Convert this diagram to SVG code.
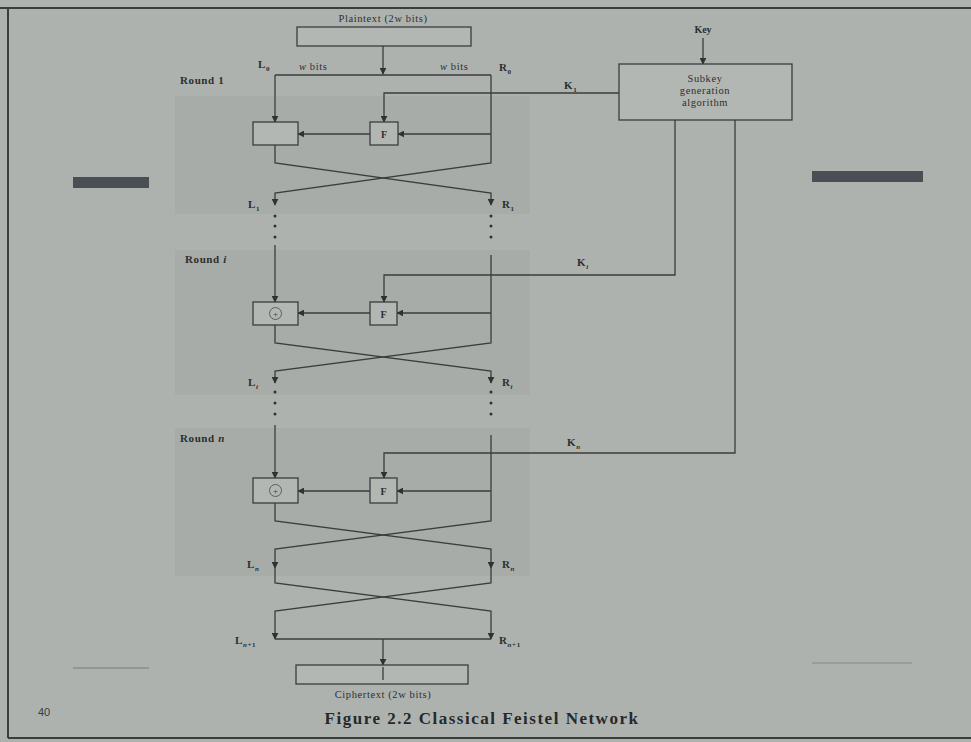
<svg xmlns="http://www.w3.org/2000/svg" width="971" height="742" viewBox="0 0 971 742">
<defs>
<marker id="ah" viewBox="0 0 10 10" refX="9" refY="5" markerWidth="7" markerHeight="7" orient="auto" markerUnits="userSpaceOnUse">
<path d="M0,0 L10,5 L0,10 z" fill="#2f3231"/>
</marker>
<style>
.ln{fill:none;stroke:#3a3d3c;stroke-width:1.3}
.bx{fill:#b3b7b4;stroke:#3a3d3c;stroke-width:1.3}
.t{font-family:"Liberation Serif",serif;font-size:10.5px;fill:#2c2f2e;letter-spacing:0.6px}
.tb{font-family:"Liberation Serif",serif;font-size:10px;fill:#2c2f2e;font-weight:bold}
.lab{font-family:"Liberation Serif",serif;font-size:11px;fill:#2c2f2e;font-weight:bold;letter-spacing:0.6px}
.sub{font-size:7px}
.dot{fill:#2f3231}
.shade{fill:#a8aca9}
</style>
</defs>
<rect x="0" y="0" width="971" height="742" fill="#aeb2af"/>
<!-- page frame -->
<g id="page">
<line x1="0" y1="8" x2="971" y2="8" stroke="#3a3d3c" stroke-width="2"/>
<line x1="8" y1="8" x2="8" y2="738" stroke="#3a3d3c" stroke-width="2"/>
<line x1="8" y1="738" x2="971" y2="738" stroke="#3a3d3c" stroke-width="2"/>
<rect x="73" y="177" width="76" height="11" fill="#4a4e55"/>
<rect x="812" y="171" width="111" height="11" fill="#4a4e55"/>
<line x1="73" y1="668" x2="149" y2="668" stroke="#6a6e70" stroke-width="0.8"/>
<line x1="812" y1="663" x2="912" y2="663" stroke="#7a7e80" stroke-width="0.8"/>
<text x="38" y="716" font-family="Liberation Sans,sans-serif" font-size="11" fill="#3a3d3c">40</text>
<rect class="shade" x="175" y="96" width="355" height="118"/>
<rect class="shade" x="175" y="250" width="355" height="145"/>
<rect class="shade" x="175" y="428" width="355" height="148"/>
</g>
<!-- connectors -->
<g id="connectors">
<!-- plaintext down -->
<line class="ln" x1="383" y1="46" x2="383" y2="74" marker-end="url(#ah)"/>
<line class="ln" x1="275" y1="75" x2="491" y2="75"/>
<!-- round 1 -->
<line class="ln" x1="275" y1="75" x2="275" y2="122" marker-end="url(#ah)"/>
<polyline class="ln" points="491,75 491,163 275,193 275,205" marker-end="url(#ah)"/>
<line class="ln" x1="491" y1="134" x2="398" y2="134" marker-end="url(#ah)"/>
<line class="ln" x1="370" y1="134" x2="298" y2="134" marker-end="url(#ah)"/>
<polyline class="ln" points="275,145 275,163 491,193 491,205" marker-end="url(#ah)"/>
<polyline class="ln" points="619,93 384,93 384,122" marker-end="url(#ah)"/>
<!-- round i -->
<line class="ln" x1="275" y1="245" x2="275" y2="302" marker-end="url(#ah)"/>
<polyline class="ln" points="491,255 491,343 275,371 275,383" marker-end="url(#ah)"/>
<line class="ln" x1="491" y1="313" x2="397" y2="313" marker-end="url(#ah)"/>
<line class="ln" x1="370" y1="313" x2="298" y2="313" marker-end="url(#ah)"/>
<polyline class="ln" points="275,325 275,343 491,371 491,383" marker-end="url(#ah)"/>
<polyline class="ln" points="675,120 675,275 384,275 384,302" marker-end="url(#ah)"/>
<!-- round n -->
<line class="ln" x1="275" y1="425" x2="275" y2="478" marker-end="url(#ah)"/>
<polyline class="ln" points="491,435 491,521 275,549 275,568" marker-end="url(#ah)"/>
<line class="ln" x1="491" y1="491" x2="397" y2="491" marker-end="url(#ah)"/>
<line class="ln" x1="370" y1="491" x2="298" y2="491" marker-end="url(#ah)"/>
<polyline class="ln" points="275,503 275,521 491,549 491,568" marker-end="url(#ah)"/>
<polyline class="ln" points="735,120 735,453 384,453 384,478" marker-end="url(#ah)"/>
<!-- final swap -->
<polyline class="ln" points="275,568 275,583 491,611 491,639" marker-end="url(#ah)"/>
<polyline class="ln" points="491,568 491,583 275,611 275,639" marker-end="url(#ah)"/>
<line class="ln" x1="275" y1="639" x2="491" y2="639"/>
<line class="ln" x1="383" y1="639" x2="383" y2="665" marker-end="url(#ah)"/>
<!-- key -->
<line class="ln" x1="703" y1="38" x2="703" y2="64" marker-end="url(#ah)"/>
<!-- dots -->
<circle class="dot" cx="275" cy="216" r="1.5"/><circle class="dot" cx="275" cy="226" r="1.5"/><circle class="dot" cx="275" cy="237" r="1.5"/>
<circle class="dot" cx="491" cy="216" r="1.5"/><circle class="dot" cx="491" cy="226" r="1.5"/><circle class="dot" cx="491" cy="237" r="1.5"/>
<circle class="dot" cx="275" cy="392" r="1.5"/><circle class="dot" cx="275" cy="403" r="1.5"/><circle class="dot" cx="275" cy="414" r="1.5"/>
<circle class="dot" cx="491" cy="392" r="1.5"/><circle class="dot" cx="491" cy="403" r="1.5"/><circle class="dot" cx="491" cy="414" r="1.5"/>
</g>
<!-- nodes -->
<g id="plaintext">
<rect class="bx" x="297" y="27" width="174" height="19"/>
<text class="t" x="383" y="22" text-anchor="middle">Plaintext (2w bits)</text>
</g>
<g id="subkey">
<rect class="bx" x="619" y="64" width="173" height="56"/>
<text class="t" x="705" y="82" text-anchor="middle">Subkey</text>
<text class="t" x="705" y="94" text-anchor="middle">generation</text>
<text class="t" x="705" y="106" text-anchor="middle">algorithm</text>
<text class="tb" x="703" y="33" text-anchor="middle">Key</text>
</g>
<g id="xor1"><rect class="bx" x="253" y="122" width="45" height="23"/></g>
<g id="f1"><rect class="bx" x="370" y="122" width="28" height="23"/><text class="tb" x="384" y="138" text-anchor="middle" font-size="12">F</text></g>
<g id="xori"><rect class="bx" x="253" y="302" width="45" height="23"/><circle cx="275.5" cy="313.5" r="6" fill="none" stroke="#5a5e5d" stroke-width="1"/><text x="275.5" y="317" text-anchor="middle" font-family="Liberation Serif,serif" font-size="9" fill="#3a3d3c">+</text></g>
<g id="fi"><rect class="bx" x="370" y="302" width="27" height="23"/><text class="tb" x="383.5" y="318" text-anchor="middle" font-size="12">F</text></g>
<g id="xorn"><rect class="bx" x="253" y="478" width="45" height="25"/><circle cx="275.5" cy="490.5" r="6" fill="none" stroke="#5a5e5d" stroke-width="1"/><text x="275.5" y="494" text-anchor="middle" font-family="Liberation Serif,serif" font-size="9" fill="#3a3d3c">+</text></g>
<g id="fn"><rect class="bx" x="370" y="478" width="27" height="25"/><text class="tb" x="383.5" y="495" text-anchor="middle" font-size="12">F</text></g>
<g id="ciphertext">
<rect class="bx" x="296" y="665" width="172" height="19"/>
<line class="ln" x1="383" y1="667" x2="383" y2="680"/>
<text class="t" x="383" y="698" text-anchor="middle">Ciphertext (2w bits)</text>
</g>
<g id="labels">
<text class="lab" x="258" y="68">L<tspan class="sub" dy="3">0</tspan></text>
<text class="t" x="299" y="70" font-size="9"><tspan font-style="italic">w</tspan> bits</text>
<text class="t" x="440" y="70" font-size="9"><tspan font-style="italic">w</tspan> bits</text>
<text class="lab" x="499" y="71">R<tspan class="sub" dy="3">0</tspan></text>
<text class="lab" x="180" y="84">Round 1</text>
<text class="lab" x="564" y="89">K<tspan class="sub" dy="3">1</tspan></text>
<text class="lab" x="248" y="208">L<tspan class="sub" dy="3">1</tspan></text>
<text class="lab" x="502" y="208">R<tspan class="sub" dy="3">1</tspan></text>
<text class="lab" x="185" y="263">Round <tspan font-style="italic">i</tspan></text>
<text class="lab" x="577" y="266">K<tspan class="sub" dy="3" font-style="italic">i</tspan></text>
<text class="lab" x="248" y="386">L<tspan class="sub" dy="3" font-style="italic">i</tspan></text>
<text class="lab" x="502" y="386">R<tspan class="sub" dy="3" font-style="italic">i</tspan></text>
<text class="lab" x="180" y="442">Round <tspan font-style="italic">n</tspan></text>
<text class="lab" x="567" y="446">K<tspan class="sub" dy="3" font-style="italic">n</tspan></text>
<text class="lab" x="247" y="568">L<tspan class="sub" dy="3" font-style="italic">n</tspan></text>
<text class="lab" x="502" y="568">R<tspan class="sub" dy="3" font-style="italic">n</tspan></text>
<text class="lab" x="235" y="644">L<tspan class="sub" dy="3"><tspan font-style="italic">n</tspan>+1</tspan></text>
<text class="lab" x="499" y="644">R<tspan class="sub" dy="3"><tspan font-style="italic">n</tspan>+1</tspan></text>
<text x="482" y="724" text-anchor="middle" font-family="Liberation Serif,serif" font-size="17" font-weight="bold" letter-spacing="1.5" fill="#262928">Figure 2.2  Classical Feistel Network</text>
</g>
</svg>
